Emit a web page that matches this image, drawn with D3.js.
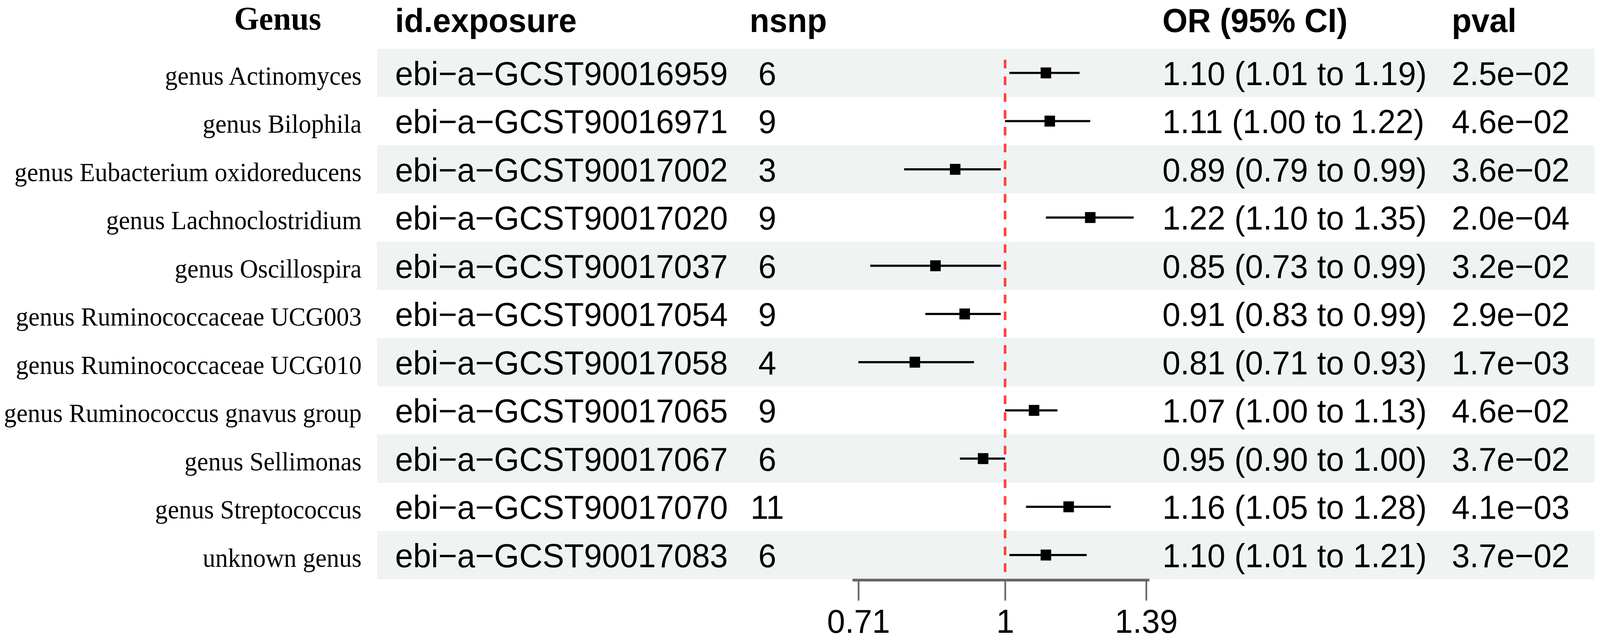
<!DOCTYPE html>
<html>
<head>
<meta charset="utf-8">
<script src="https://cdn.jsdelivr.net/npm/d3@7"></script>
<style>
  html, body { margin: 0; padding: 0; background: #fff; overflow: hidden; }
  svg { display: block; width: 100vw; height: 100vh; }
</style>
</head>
<body>
<div id="chart"></div>
<script>
// data
const genus = [
  "genus Actinomyces", "genus Bilophila", "genus Eubacterium oxidoreducens",
  "genus Lachnoclostridium", "genus Oscillospira", "genus Ruminococcaceae UCG003",
  "genus Ruminococcaceae UCG010", "genus Ruminococcus gnavus group", "genus Sellimonas",
  "genus Streptococcus", "unknown genus"
];
const idExposure = [
  "ebi−a−GCST90016959", "ebi−a−GCST90016971", "ebi−a−GCST90017002",
  "ebi−a−GCST90017020", "ebi−a−GCST90017037", "ebi−a−GCST90017054",
  "ebi−a−GCST90017058", "ebi−a−GCST90017065", "ebi−a−GCST90017067",
  "ebi−a−GCST90017070", "ebi−a−GCST90017083"
];
const nsnp = [6, 9, 3, 9, 6, 9, 4, 9, 6, 11, 6];
const or = [1.10, 1.11, 0.89, 1.22, 0.85, 0.91, 0.81, 1.07, 0.95, 1.16, 1.10];
const lower = [1.01, 1.00, 0.79, 1.10, 0.73, 0.83, 0.71, 1.00, 0.90, 1.05, 1.01];
const upper = [1.19, 1.22, 0.99, 1.35, 0.99, 0.99, 0.93, 1.13, 1.00, 1.28, 1.21];
const pval = [
  "2.5e−02", "4.6e−02", "3.6e−02", "2.0e−04", "3.2e−02", "2.9e−02",
  "1.7e−03", "4.6e−02", "3.7e−02", "4.1e−03", "3.7e−02"
];
const xTicks = [0.71, 1, 1.39];
const refValue = 1;

const width = 4252, height = 1642;
const sans = "'Liberation Sans', Arial, sans-serif";
const serif = "'Liberation Serif', 'Times New Roman', serif";

// scale the drawing to whatever the viewport is
const svg = d3.select("#chart")
  .append("svg")
  .attr("viewBox", `0 0 ${width} ${height}`)
  .attr("preserveAspectRatio", "none");

svg.append("rect")
  .attr("width", width).attr("height", height)
  .attr("fill", "#fff");

// Scales
const y = d3.scaleBand()
  .domain(genus)
  .range([125, 125 + 123.5 * genus.length])
  .padding(0);

const x = d3.scaleLog()
  .domain([0.7, 1.4])
  .range([2265, 3054]);

const rows = genus.map((g, i) => ({
  genus: g, id: idExposure[i], nsnp: nsnp[i],
  or: or[i], lo: lower[i], hi: upper[i], p: pval[i], i: i
}));

// striped row backgrounds
svg.append("g")
  .selectAll("rect")
  .data(rows.filter(d => d.i % 2 === 0))
  .join("rect")
  .attr("x", 1002)
  .attr("y", d => y(d.genus))
  .attr("width", 4237 - 1002)
  .attr("height", y.bandwidth())
  .attr("fill", "#eff3f2");

// Column headers
const headers = [
  { text: "id.exposure", x: 1050 },
  { text: "nsnp", x: 1992 },
  { text: "OR (95% CI)", x: 3089 },
  { text: "pval", x: 3858 }
];
svg.append("g")
  .selectAll("text")
  .data(headers)
  .join("text")
  .attr("x", d => d.x)
  .attr("y", 82)
  .style("font-family", sans)
  .style("font-size", "86px")
  .style("font-weight", "bold")
  .text(d => d.text);

svg.append("text")
  .attr("x", 738)
  .attr("y", 76)
  .attr("text-anchor", "middle")
  .style("font-family", serif)
  .style("font-size", "85px")
  .style("font-weight", "bold")
  .text("Genus");

const mid = d => y(d.genus) + y.bandwidth() / 2;

// Genus labels
svg.append("g")
  .selectAll("text")
  .data(rows)
  .join("text")
  .attr("x", 961)
  .attr("y", d => mid(d) + 30)
  .attr("text-anchor", "end")
  .style("font-family", serif)
  .style("font-size", "67px")
  .text(d => d.genus);

// Table text columns
const cells = svg.append("g")
  .style("font-family", sans)
  .style("font-size", "86px");

cells.selectAll(".id")
  .data(rows)
  .join("text")
  .attr("class", "id")
  .attr("x", 1050)
  .attr("y", d => mid(d) + 31)
  .text(d => d.id);

cells.selectAll(".nsnp")
  .data(rows)
  .join("text")
  .attr("class", "nsnp")
  .attr("x", 2039)
  .attr("y", d => mid(d) + 31)
  .attr("text-anchor", "middle")
  .text(d => d.nsnp);

cells.selectAll(".ci")
  .data(rows)
  .join("text")
  .attr("class", "ci")
  .attr("x", 3089)
  .attr("y", d => mid(d) + 31)
  .text(d => `${d.or.toFixed(2)} (${d.lo.toFixed(2)} to ${d.hi.toFixed(2)})`);

cells.selectAll(".pval")
  .data(rows)
  .join("text")
  .attr("class", "pval")
  .attr("x", 3858)
  .attr("y", d => mid(d) + 31)
  .text(d => d.p);

// Reference line
svg.append("line")
  .attr("x1", x(refValue)).attr("x2", x(refValue))
  .attr("y1", 153).attr("y2", y.range()[1])
  .attr("stroke", "#ff4040")
  .attr("stroke-width", 7)
  .attr("stroke-dasharray", "22,21");

// Confidence intervals
svg.append("g")
  .selectAll("line")
  .data(rows)
  .join("line")
  .attr("x1", d => x(d.lo))
  .attr("x2", d => x(d.hi))
  .attr("y1", d => mid(d))
  .attr("y2", d => mid(d))
  .attr("stroke", "#000")
  .attr("stroke-width", 5.5);

// Point estimates
const sq = 28;
svg.append("g")
  .selectAll("rect")
  .data(rows)
  .join("rect")
  .attr("x", d => x(d.or) - sq / 2)
  .attr("y", d => mid(d) - sq / 2)
  .attr("width", sq)
  .attr("height", sq)
  .attr("fill", "#000");

// X axis
const axisY = y.range()[1] + 2;
const xAxis = d3.axisBottom(x)
  .tickValues(xTicks)
  .tickFormat(d => String(d))
  .tickSizeInner(53)
  .tickSizeOuter(0)
  .tickPadding(21);

const ax = svg.append("g")
  .attr("transform", `translate(0,${axisY})`)
  .attr("color", "#666")
  .call(xAxis);

ax.select(".domain")
  .attr("stroke-width", 7);
ax.selectAll(".tick line")
  .attr("stroke-width", 4.5);
ax.selectAll(".tick text")
  .attr("fill", "#000")
  .style("font-family", sans)
  .style("font-size", "86px");
</script>
</body>
</html>
